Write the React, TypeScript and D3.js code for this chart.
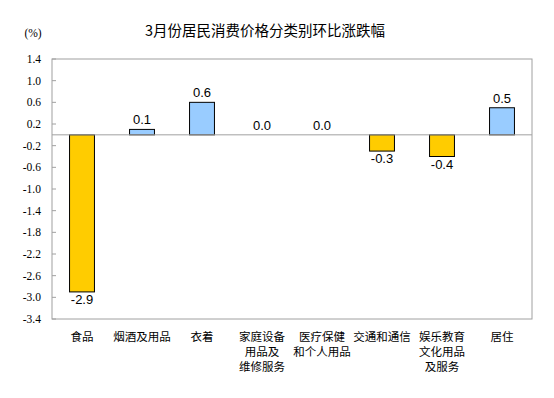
import React from 'react';
import { scaleBand, scaleLinear, range } from 'd3';

// categories (each entry split into display lines)
const categories = [
  ['食品'],
  ['烟酒及用品'],
  ['衣着'],
  ['家庭设备', '用品及', '维修服务'],
  ['医疗保健', '和个人用品'],
  ['交通和通信'],
  ['娱乐教育', '文化用品', '及服务'],
  ['居住'],
];
const values = [-2.9, 0.1, 0.6, 0.0, 0.0, -0.3, -0.4, 0.5];
const yTicks = range(14, -35, -4).map((v) => v / 10);

const title = '3月份居民消费价格分类别环比涨跌幅';
const unitLabel = '(%)';

const W = 554;
const H = 398;
const plot = { left: 52, top: 59, right: 532, bottom: 319 };

const App = () => {
  const x = scaleBand<number>()
    .domain(values.map((_, i) => i))
    .range([plot.left, plot.right])
    .paddingInner(0.585)
    .paddingOuter(0.2925);

  const y = scaleLinear().domain([1.4, -3.4]).range([plot.top, plot.bottom]);
  const y0 = y(0);
  const sans = '"Liberation Sans", Arial, sans-serif';
  const cjk = '"Noto Sans CJK SC", sans-serif';
  const serif = '"Liberation Serif", "Times New Roman", serif';

  return (
    <svg
      width={W}
      height={H}
      style={{ position: 'fixed', left: 0, top: 0, background: '#fff' }}
    >
      <text x={265} y={36} textAnchor="middle" fontFamily={cjk} fontSize={14.5} fill="#000">
        {title}
      </text>
      <text x={33} y={37} textAnchor="middle" fontFamily={serif} fontSize={11.5} fill="#000">
        {unitLabel}
      </text>

      <rect
        x={plot.left}
        y={plot.top}
        width={plot.right - plot.left}
        height={plot.bottom - plot.top}
        fill="none"
        stroke="#a0a0a0"
      />

      {yTicks.map((t) => (
        <g key={t}>
          <line x1={plot.left} x2={plot.left + 4} y1={y(t)} y2={y(t)} stroke="#a0a0a0" />
          <text
            x={41}
            y={y(t) + 4}
            textAnchor="end"
            fontFamily={serif}
            fontSize={11.5}
            fill="#000"
          >
            {t.toFixed(1)}
          </text>
        </g>
      ))}

      {values.map((v, i) => {
        const top = Math.min(y(v), y0);
        const h = Math.abs(y(v) - y0);
        const cx = (x(i) as number) + x.bandwidth() / 2;
        return (
          <g key={i}>
            {h > 0 && (
              <rect
                x={x(i)}
                y={top}
                width={x.bandwidth()}
                height={h}
                fill={v >= 0 ? '#99ccff' : '#ffcc00'}
                stroke="#000"
                strokeWidth={1}
              />
            )}
            <text
              x={cx}
              y={v >= 0 ? y(v) - 5 : y(v) + 12}
              textAnchor="middle"
              fontFamily={sans}
              fontSize={13}
              fill="#000"
            >
              {v.toFixed(1)}
            </text>
          </g>
        );
      })}

      <line x1={plot.left} x2={plot.right} y1={y0} y2={y0} stroke="#a0a0a0" />

      {categories.map((lines, i) => {
        const cx = (x(i) as number) + x.bandwidth() / 2;
        return (
          <text key={i} textAnchor="middle" fontFamily={cjk} fontSize={11.5} fill="#000">
            {lines.map((l, j) => (
              <tspan key={j} x={cx} y={341 + j * 15}>
                {l}
              </tspan>
            ))}
          </text>
        );
      })}
    </svg>
  );
};

export default App;
